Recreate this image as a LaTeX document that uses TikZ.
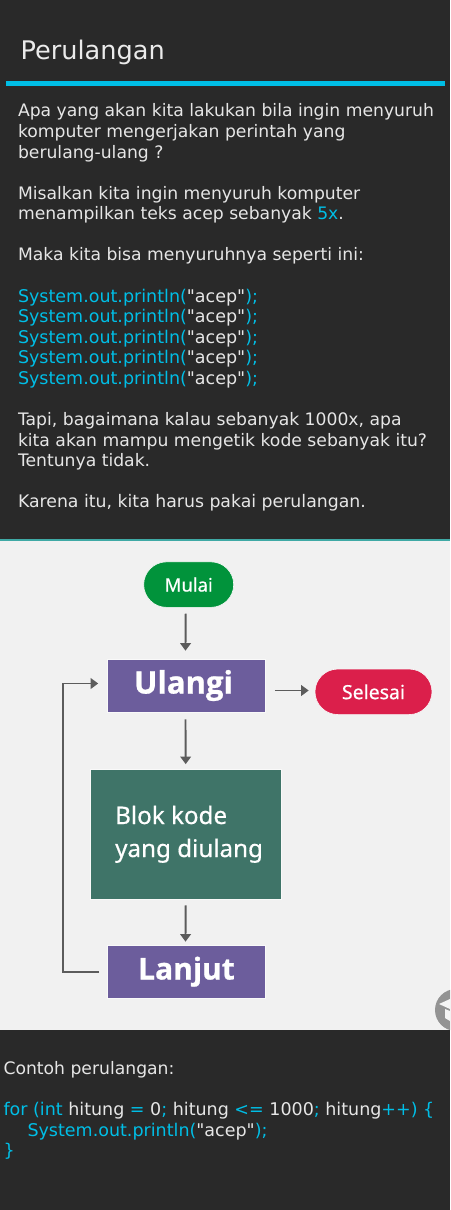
\documentclass[tikz,border=0pt]{standalone}
\usepackage{fontspec}
\setmainfont{DejaVu Sans}[Ligatures=TeXOff]
\newfontfamily\labelfont{Noto Sans}[FakeBold=0.5]
\newfontfamily\heavyfont{Open Sans}[FakeBold=0.8]
\usetikzlibrary{arrows.meta,shapes.misc}
\definecolor{pagebg}{HTML}{292929}
\definecolor{panelbg}{HTML}{F1F1F1}
\definecolor{accent}{HTML}{00BEE6}
\definecolor{bodytxt}{HTML}{E6E6E6}
\definecolor{teal}{HTML}{3FA9A5}
\definecolor{startgreen}{HTML}{01933B}
\definecolor{endred}{HTML}{DB1F4B}
\definecolor{loopviolet}{HTML}{6C5D9C}
\definecolor{blockgreen}{HTML}{3F7468}
\definecolor{arrowgray}{HTML}{5C5C5C}
\newcommand{\cy}[1]{\textcolor{accent}{#1}}
\tikzset{
  x=1pt,y=-1pt,
  txt/.style={anchor=base west,inner sep=0pt,outer sep=0pt,text=bodytxt,font=\fontsize{17.2}{20}\selectfont},
  code/.style={txt,font=\fontsize{17.5}{20}\selectfont},
  lbl/.style={text=white,inner sep=0pt},
  pill/.style={rounded rectangle,inner sep=0pt,minimum height=45.5pt,draw=white!60!panelbg,line width=.6pt},
  boxn/.style={rectangle,inner sep=0pt,draw=white!60!panelbg,line width=.6pt},
  flow/.style={draw=arrowgray,line width=1.9pt,-{Triangle[length=7.5pt,width=10.5pt]}}
}
\begin{document}
\begin{tikzpicture}
\useasboundingbox (0,0) rectangle (450,1210);
\fill[pagebg] (0,0) rectangle (450,1210);
\node[txt,font=\fontsize{25.6}{28}\selectfont,text=white!92!black] (title) at (20.5,59) {Perulangan};
\fill[accent] (6,81) rectangle (445,86);
\node[txt] (l1) at (18,116) {Apa yang akan kita lakukan bila ingin menyuruh};
\node[txt] (l2) at (18,137) {komputer mengerjakan perintah yang};
\node[txt] (l3) at (18,158) {berulang-ulang ?};
\node[txt] (l4) at (18,199) {Misalkan kita ingin menyuruh komputer};
\node[txt] (l5) at (18,219) {menampilkan teks acep sebanyak \cy{5x}.};
\node[txt] (l6) at (18,260) {Maka kita bisa menyuruhnya seperti ini:};
\node[code] (c1) at (18,302) {\cy{System.out.println(}"acep"\cy{);}};
\node[code] (c2) at (18,322) {\cy{System.out.println(}"acep"\cy{);}};
\node[code] (c3) at (18,343) {\cy{System.out.println(}"acep"\cy{);}};
\node[code] (c4) at (18,363) {\cy{System.out.println(}"acep"\cy{);}};
\node[code] (c5) at (18,384) {\cy{System.out.println(}"acep"\cy{);}};
\node[txt] (l7) at (18,425) {Tapi, bagaimana kalau sebanyak 1000x, apa};
\node[txt] (l8) at (18,446) {kita akan mampu mengetik kode sebanyak itu?};
\node[txt] (l9) at (18,466) {Tentunya tidak.};
\node[txt,font=\fontsize{17.3}{20}\selectfont] (l10) at (18,507) {Karena itu, kita harus pakai perulangan.};
% panel
\fill[panelbg] (0,540) rectangle (450,1030);
\fill[teal] (0,539) rectangle (450,540.5);
\begin{scope}
\clip (0,540) rectangle (450,1030);
\fill[gray!85!white] (456,1010) circle (21);
\fill[white!92!gray] (439,1004) -- (450,999) -- (450,1009) -- cycle;
\fill[white!92!gray] (445,1009) -- (450,1011) -- (450,1021) -- (445,1018) -- cycle;
\end{scope}
\node[pill,fill=startgreen,minimum width=90pt,lbl,font=\labelfont\fontsize{18.5}{20}\selectfont] (mulai) at (188.7,584.6) {Mulai};
\node[boxn,fill=loopviolet,minimum width=158pt,minimum height=53pt,lbl,font=\heavyfont\bfseries\fontsize{31}{34}\selectfont] (ulangi) at (186.5,685.5) {\hspace*{-6pt}\raisebox{-1pt}{Ulangi}};
\node[pill,fill=endred,minimum width=117pt,lbl,font=\labelfont\fontsize{19.5}{20}\selectfont] (selesai) at (373.5,691.8) {Selesai};
\node[boxn,fill=blockgreen,minimum width=191.5pt,minimum height=129.5pt] (blok) at (185.7,834.2) {};
\node[lbl,anchor=base west,font=\labelfont\fontsize{24.2}{30}\selectfont] (blok1) at (115,824) {Blok kode};
\node[lbl,anchor=base west,font=\labelfont\fontsize{24.2}{30}\selectfont] (blok2) at (115,857) {yang diulang};
\node[boxn,fill=loopviolet,minimum width=158pt,minimum height=53.5pt,lbl,font=\heavyfont\bfseries\fontsize{30}{34}\selectfont] (lanjut) at (186.5,971.7) {\raisebox{-2pt}{Lanjut}};
\draw[flow] ([xshift=-3pt,yshift=-6pt]mulai.south) -- ([xshift=-1pt,yshift=8pt]ulangi.north);
\draw[flow] ([xshift=-1pt,yshift=-7pt]ulangi.south) -- ([yshift=5pt]blok.north);
\draw[flow] ([xshift=9pt,yshift=-5pt]ulangi.east) -- ([xshift=-6pt,yshift=1.3pt]selesai.west);
\draw[flow] ([yshift=-6pt]blok.south) -- ([xshift=-1pt,yshift=3pt]lanjut.north);
\coordinate (loopa) at (63,971.7);
\coordinate (loopb) at (63,683.5);
\draw[flow] ([xshift=-8pt]lanjut.west) -- (loopa) -- (loopb) -- ([xshift=-9pt,yshift=2pt]ulangi.west);
% code
\node[txt] (c0) at (3.5,1074) {Contoh perulangan:};
\node[code] (f1) at (3.5,1115) {\cy{for (int} hitung \cy{=} 0\cy{;} hitung \cy{<=} 1000\cy{;} hitung\cy{++) \{}};
\node[code] (f2) at (27.5,1136) {\cy{System.out.println(}"acep"\cy{);}};
\node[code] (f3) at (3.5,1156) {\cy{\}}};
\end{tikzpicture}
\end{document}
